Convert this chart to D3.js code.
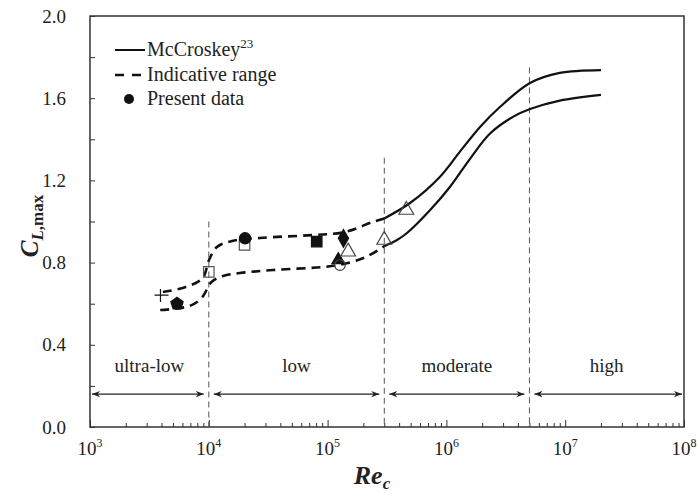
<!DOCTYPE html>
<html>
<head>
<meta charset="utf-8">
<script src="https://cdn.jsdelivr.net/npm/d3@7"></script>
<style>
  body { margin: 0; background: #fff; }
  svg text { font-family: "Liberation Serif", "Times New Roman", serif; fill: #222; }
</style>
</head>
<body>
<svg id="chart"></svg>
<script>
// McCroskey curves [Re, CLmax]
const mcCroskeyUpper = [[3e5, 1.015], [4.94e5, 1.09], [8.8e5, 1.217], [1.3e6, 1.34], [1.92e6, 1.46],
  [2.82e6, 1.557], [5.06e6, 1.674], [9e6, 1.723], [2e7, 1.737]];
const mcCroskeyLower = [[3e5, 0.88], [3.84e5, 0.91], [4.66e5, 0.944], [7.3e5, 1.056], [1.07e6, 1.168],
  [1.58e6, 1.305], [2.33e6, 1.428], [3.63e6, 1.509], [5.06e6, 1.547], [9e6, 1.588], [2e7, 1.616]];

// indicative range (dashed)
const rangeUpper = [[4.1e3, 0.657], [6.3e3, 0.68], [8.9e3, 0.725], [1.0e4, 0.81], [1.17e4, 0.876],
  [1.57e4, 0.905], [2.7e4, 0.92], [7.5e4, 0.934], [1.4e5, 0.949], [2.4e5, 0.998], [3e5, 1.015]];
const rangeLower = [[3.9e3, 0.569], [6.9e3, 0.589], [8.7e3, 0.628], [9.6e3, 0.667], [1.06e4, 0.707],
  [1.32e4, 0.735], [1.83e4, 0.749], [3.47e4, 0.764], [9.8e4, 0.78], [1.45e5, 0.797], [2.13e5, 0.829], [3e5, 0.88]];

// present data, one list per symbol
const plusPts = [[4e3, 0.642]];
const filledPentagonPts = [[5.4e3, 0.60]];
const openSquarePts = [[1e4, 0.755], [2e4, 0.886]];
const filledCirclePts = [[2.02e4, 0.918]];
const filledSquarePts = [[8.1e4, 0.902]];
const filledDiamondPts = [[1.36e5, 0.918]];
const filledTrianglePts = [[1.23e5, 0.813]];
const openCirclePts = [[1.27e5, 0.788]];
const openTrianglePts = [[1.49e5, 0.853], [3e5, 0.91], [4.6e5, 1.056]];

// flow regimes
const regimeNames = ["ultra-low", "low", "moderate", "high"];
const regimeBounds = [1e3, 1e4, 3e5, 5e6, 1e8];
const boundaryTops = [1.0, 1.31, 1.75];

const yTicks = [0, 0.2, 0.4, 0.6, 0.8, 1.0, 1.2, 1.4, 1.6, 1.8, 2.0];
const decades = [3, 4, 5, 6, 7, 8];

const width = 697, height = 495;
const svg = d3.select('#chart').attr('width', width).attr('height', height);

const x = d3.scaleLog().domain([1e3, 1e8]).range([90, 684]);
const y = d3.scaleLinear().domain([0, 2]).range([427, 16]);

// y axis (ticks inside)
svg.append('g')
  .attr('transform', `translate(${x.range()[0]},0)`)
  .call(d3.axisLeft(y).tickValues(yTicks).tickSize(-5).tickPadding(24)
    .tickFormat(d => (Math.round(d * 10) % 4 === 0) ? d.toFixed(1) : ''))
  .call(g => g.select('.domain').remove())
  .call(g => g.selectAll('line').attr('stroke', '#333'))
  .call(g => g.selectAll('text').attr('font-size', 19).attr('fill', '#222')
    .attr('font-family', '"Liberation Serif", serif'));

// x axis minor/major ticks inside
const minorTicks = [];
for (let e = 3; e < 8; e++) for (let m = 2; m <= 9; m++) minorTicks.push(m * Math.pow(10, e));
svg.append('g')
  .attr('transform', `translate(0,${y.range()[0]})`)
  .call(d3.axisBottom(x).tickValues(minorTicks).tickSize(-4).tickFormat(''))
  .call(g => g.select('.domain').remove())
  .call(g => g.selectAll('line').attr('stroke', '#333'));
svg.append('g')
  .attr('transform', `translate(0,${y.range()[0]})`)
  .call(d3.axisBottom(x).tickValues(decades.map(d => Math.pow(10, d))).tickSize(-7).tickFormat(''))
  .call(g => g.select('.domain').remove())
  .call(g => g.selectAll('line').attr('stroke', '#333'));

// x labels 10^n
const xl = svg.append('g').selectAll('text').data(decades).join('text')
  .attr('x', d => x(Math.pow(10, d)))
  .attr('y', 455)
  .attr('text-anchor', 'middle')
  .attr('font-size', 19);
xl.append('tspan').text('10');
xl.append('tspan').attr('font-size', 12).attr('dy', -8).text(d => d);

// frame
svg.append('rect')
  .attr('x', x.range()[0]).attr('y', y.range()[1])
  .attr('width', x.range()[1] - x.range()[0])
  .attr('height', y.range()[0] - y.range()[1])
  .attr('fill', 'none').attr('stroke', '#333').attr('stroke-width', 1.5);

// regime boundaries
svg.append('g').selectAll('line').data(regimeBounds.slice(1, 4)).join('line')
  .attr('x1', d => x(d)).attr('x2', d => x(d))
  .attr('y1', (d, i) => y(boundaryTops[i])).attr('y2', y(0))
  .attr('stroke', '#555').attr('stroke-width', 1).attr('stroke-dasharray', '6,4');

// arrows
const defs = svg.append('defs');
defs.append('marker').attr('id', 'ah').attr('viewBox', '0 0 10 10')
  .attr('refX', 10).attr('refY', 5).attr('markerWidth', 8).attr('markerHeight', 8)
  .attr('markerUnits', 'userSpaceOnUse').attr('orient', 'auto-start-reverse')
  .append('path').attr('d', 'M0,1 L10,5 L0,9 L3,5 Z').attr('fill', '#222');

const regimes = regimeNames.map((n, i) => ({ name: n, a: regimeBounds[i], b: regimeBounds[i + 1] }));
const gap = 5;
svg.append('g').selectAll('line').data(regimes).join('line')
  .attr('x1', d => x(d.a) + (d.a === 1e3 ? 2 : gap))
  .attr('x2', d => x(d.b) - (d.b === 1e8 ? 2 : gap))
  .attr('y1', y(0.16)).attr('y2', y(0.16))
  .attr('stroke', '#222').attr('stroke-width', 1.2)
  .attr('marker-start', 'url(#ah)').attr('marker-end', 'url(#ah)');
svg.append('g').selectAll('text').data(regimes).join('text')
  .attr('x', d => (x(d.a) + x(d.b)) / 2)
  .attr('y', y(0.267))
  .attr('text-anchor', 'middle').attr('font-size', 19)
  .text(d => d.name);

// curves
const line = d3.line().x(d => x(d[0])).y(d => y(d[1])).curve(d3.curveCatmullRom.alpha(0.5));
[mcCroskeyUpper, mcCroskeyLower].forEach(c => {
  svg.append('path').attr('d', line(c)).attr('fill', 'none')
    .attr('stroke', '#111').attr('stroke-width', 2.2);
});
[rangeUpper, rangeLower].forEach(c => {
  svg.append('path').attr('d', line(c)).attr('fill', 'none')
    .attr('stroke', '#111').attr('stroke-width', 2.6).attr('stroke-dasharray', '9,6');
});

// markers
function drawSymbols(pts, type, size, fill, stroke) {
  svg.append('g').selectAll('path').data(pts).join('path')
    .attr('transform', d => `translate(${x(d[0])},${y(d[1])})`)
    .attr('d', d3.symbol().type(type).size(size))
    .attr('fill', fill).attr('stroke', stroke).attr('stroke-width', 1.2);
}
const pentagon = {
  draw(ctx, size) {
    const r = Math.sqrt(size / 2.378);
    for (let i = 0; i < 5; i++) {
      const a = -Math.PI / 2 + i * 2 * Math.PI / 5;
      i ? ctx.lineTo(r * Math.cos(a), r * Math.sin(a)) : ctx.moveTo(r * Math.cos(a), r * Math.sin(a));
    }
    ctx.closePath();
  }
};
const plus = {
  draw(ctx, size) {
    const r = Math.sqrt(size) / 2;
    ctx.moveTo(-r, 0); ctx.lineTo(r, 0);
    ctx.moveTo(-r * 0.15, -r * 0.85); ctx.lineTo(-r * 0.15, r);
  }
};
drawSymbols(plusPts, plus, 196, 'none', '#111');
drawSymbols(filledPentagonPts, pentagon, 100, '#111', '#111');
drawSymbols(openSquarePts, d3.symbolSquare, 110, 'none', '#555');
drawSymbols(filledCirclePts, d3.symbolCircle, 100, '#111', '#111');
drawSymbols(filledSquarePts, d3.symbolSquare, 110, '#111', '#111');
drawSymbols(filledDiamondPts, d3.symbolDiamond, 90, '#111', '#111');
drawSymbols(filledTrianglePts, d3.symbolTriangle, 70, '#111', '#111');
drawSymbols(openCirclePts, d3.symbolCircle, 90, 'none', '#444');
drawSymbols(openTrianglePts, d3.symbolTriangle, 95, 'none', '#444');

// legend
const lg = svg.append('g');
lg.append('line').attr('x1', 115).attr('x2', 145).attr('y1', 50).attr('y2', 50)
  .attr('stroke', '#111').attr('stroke-width', 2);
lg.append('line').attr('x1', 115).attr('x2', 145).attr('y1', 75).attr('y2', 75)
  .attr('stroke', '#111').attr('stroke-width', 2.6).attr('stroke-dasharray', '9,8');
lg.append('circle').attr('cx', 129).attr('cy', 99).attr('r', 5).attr('fill', '#111');
const t1 = lg.append('text').attr('x', 147).attr('y', 56).attr('font-size', 20);
t1.append('tspan').text('McCroskey');
t1.append('tspan').attr('font-size', 13).attr('dy', -8).text('23');
lg.append('text').attr('x', 147).attr('y', 81).attr('font-size', 20).text('Indicative range');
lg.append('text').attr('x', 147).attr('y', 105).attr('font-size', 20).text('Present data');

// axis titles
const yt = svg.append('text').attr('transform', 'translate(38,226) rotate(-90)')
  .attr('text-anchor', 'middle').attr('font-weight', 'bold');
yt.append('tspan').attr('font-style', 'italic').attr('font-size', 25).text('C');
yt.append('tspan').attr('font-style', 'italic').attr('font-size', 17).attr('dy', 5).text('L');
yt.append('tspan').attr('font-size', 17).text(',max');

const xt = svg.append('text').attr('x', 372).attr('y', 484)
  .attr('text-anchor', 'middle').attr('font-weight', 'bold').attr('font-style', 'italic');
xt.append('tspan').attr('font-size', 26).text('Re');
xt.append('tspan').attr('font-size', 17).attr('dy', 5).text('c');
</script>
</body>
</html>
